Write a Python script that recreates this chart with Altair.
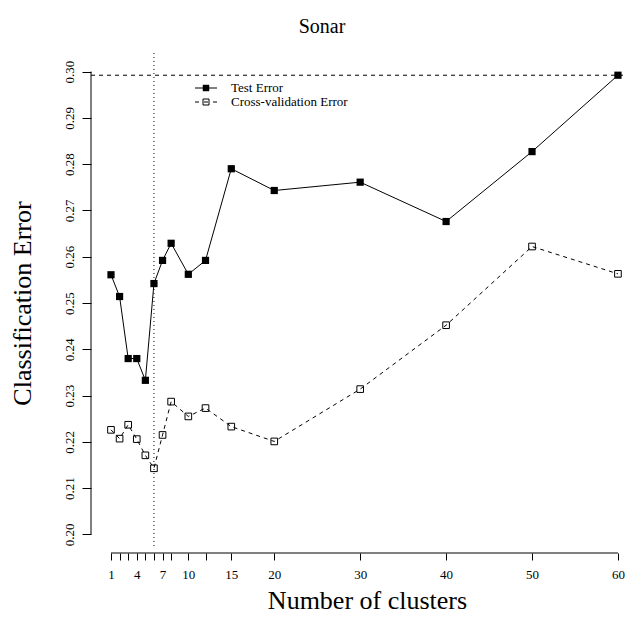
import altair as alt
import pandas as pd

# ---- data ----
clusters = [1, 2, 3, 4, 5, 6, 7, 8, 10, 12, 15, 20, 30, 40, 50, 60]
test_error = [0.2561, 0.2514, 0.2380, 0.2380, 0.2333, 0.2542, 0.2592, 0.2629,
              0.2562, 0.2592, 0.2790, 0.2743, 0.2761, 0.2676, 0.2827, 0.2992]
cv_error = [0.2226, 0.2207, 0.2237, 0.2206, 0.2171, 0.2143, 0.2215, 0.2287,
            0.2255, 0.2273, 0.2233, 0.2201, 0.2314, 0.2452, 0.2622, 0.2563]
x_ticks = [1, 2, 3, 4, 5, 6, 7, 8, 10, 12, 15, 20, 30, 40, 50, 60]
x_labels = [1, 4, 7, 10, 15, 20, 30, 40, 50, 60]
y_ticks = [0.20, 0.21, 0.22, 0.23, 0.24, 0.25, 0.26, 0.27, 0.28, 0.29, 0.30]
best_k = 6
legend_labels = ["Test Error", "Cross-validation Error"]

FONT = "Liberation Serif"
W, H = 534, 500

df = pd.DataFrame({"k": clusters, "test": test_error, "cv": cv_error})

xscale = alt.Scale(domain=[-1.327, 60.82], nice=False, zero=False)
yscale = alt.Scale(domain=[0.196, 0.304], nice=False, zero=False)

label_list = ",".join(str(v) for v in x_labels)
xaxis = alt.Axis(values=x_ticks, domain=False, grid=False, tickSize=7, tickColor="black",
                 tickWidth=1, labelColor="black", labelFont=FONT, labelFontSize=13,
                 labelPadding=8, labelOverlap=False, labelFlush=False,
                 labelExpr=f"indexof([{label_list}], datum.value) >= 0 ? datum.label : ''",
                 title="Number of clusters", titleFont=FONT, titleFontSize=26,
                 titleFontWeight="normal", titleColor="black", titleX=276, titleY=55,
                 titleBaseline="alphabetic", titleAlign="center")
yaxis = alt.Axis(values=y_ticks, format=".2f", domain=False, grid=False, tickSize=9,
                 tickColor="black", tickWidth=1, labelColor="black", labelFont=FONT,
                 labelFontSize=13, labelAngle=270, labelAlign="center",
                 labelBaseline="bottom", labelPadding=6, labelOverlap=False, labelFlush=False,
                 title="Classification Error", titleFont=FONT, titleFontSize=26,
                 titleFontWeight="normal", titleColor="black", titleAngle=270,
                 titleX=-69, titleY=250, titleBaseline="middle", titleAlign="center")

def X(field):
    return alt.X(field, type="quantitative", scale=xscale, axis=xaxis)

def Y(field):
    return alt.Y(field, type="quantitative", scale=yscale, axis=yaxis)

base = alt.Chart(df)

test_line = base.mark_line(color="black", strokeWidth=1).encode(x=X("k"), y=Y("test"))
test_pts = base.mark_square(size=52, color="black", filled=True, opacity=1).encode(
    x=X("k"), y=Y("test"))
cv_line = base.mark_line(color="black", strokeWidth=1, strokeDash=[4, 4]).encode(
    x=X("k"), y=Y("cv"))
cv_pts = base.mark_square(size=44, filled=False, stroke="black", strokeWidth=1,
                          opacity=1).encode(x=X("k"), y=Y("cv"))

# axis lines spanning the tick range only (R style)
yline_df = pd.DataFrame({"a": [y_ticks[0]], "b": [y_ticks[-1]]})
yline = alt.Chart(yline_df).mark_rule(color="black", strokeWidth=1).encode(
    x=alt.value(0), y=Y("a"), y2="b")
xline_df = pd.DataFrame({"a": [x_ticks[0]], "b": [x_ticks[-1]]})
xline = alt.Chart(xline_df).mark_rule(color="black", strokeWidth=1).encode(
    x=X("a"), x2="b", y=alt.value(H))

# reference lines
hline = alt.Chart(pd.DataFrame({"m": [max(test_error)]})).mark_rule(
    color="black", strokeWidth=1, strokeDash=[4, 4]).encode(
    y=Y("m"), x=alt.value(0), x2=alt.value(W))
vline = alt.Chart(pd.DataFrame({"k": [best_k]})).mark_rule(
    color="black", strokeWidth=1, strokeDash=[1, 3]).encode(
    x=X("k"), y=alt.value(0), y2=alt.value(H - 4))

# legend (drawn by hand, R style)
leg_df = pd.DataFrame({"label": legend_labels, "row": [0, 1]})
ly0, ldy = 35, 14
leg_solid = alt.Chart(leg_df.iloc[[0]]).mark_rule(color="black", strokeWidth=1).encode(
    x=alt.value(104), x2=alt.value(126), y=alt.value(ly0))
leg_dash = alt.Chart(leg_df.iloc[[1]]).mark_rule(color="black", strokeWidth=1,
                                                 strokeDash=[4, 5]).encode(
    x=alt.value(104), x2=alt.value(126), y=alt.value(ly0 + ldy))
leg_sq1 = alt.Chart(leg_df.iloc[[0]]).mark_square(size=42, color="black", filled=True,
                                                  opacity=1).encode(
    x=alt.value(115), y=alt.value(ly0))
leg_sq2 = alt.Chart(leg_df.iloc[[1]]).mark_square(size=36, filled=False, stroke="black",
                                                  strokeWidth=1, opacity=1).encode(
    x=alt.value(115), y=alt.value(ly0 + ldy))
leg_t1 = alt.Chart(leg_df.iloc[[0]]).mark_text(font=FONT, fontSize=13, align="left",
                                               baseline="middle", color="black").encode(
    x=alt.value(140), y=alt.value(ly0), text="label:N")
leg_t2 = alt.Chart(leg_df.iloc[[1]]).mark_text(font=FONT, fontSize=13, align="left",
                                               baseline="middle", color="black").encode(
    x=alt.value(140), y=alt.value(ly0 + ldy), text="label:N")

chart = alt.layer(
    vline, hline, test_line, cv_line, test_pts, cv_pts, yline, xline,
    leg_solid, leg_dash, leg_sq1, leg_sq2, leg_t1, leg_t2
).properties(
    width=W, height=H,
    title=alt.TitleParams("Sonar", font=FONT, fontSize=20, fontWeight="normal",
                          color="black", anchor="middle", dx=-36, offset=16),
    autosize=alt.AutoSizeParams(type="none"),
    padding={"left": 83, "top": 45, "right": 0, "bottom": 61},
).configure_view(stroke=None)

chart.save("out.html", embed_options={"renderer": "svg", "actions": False})
